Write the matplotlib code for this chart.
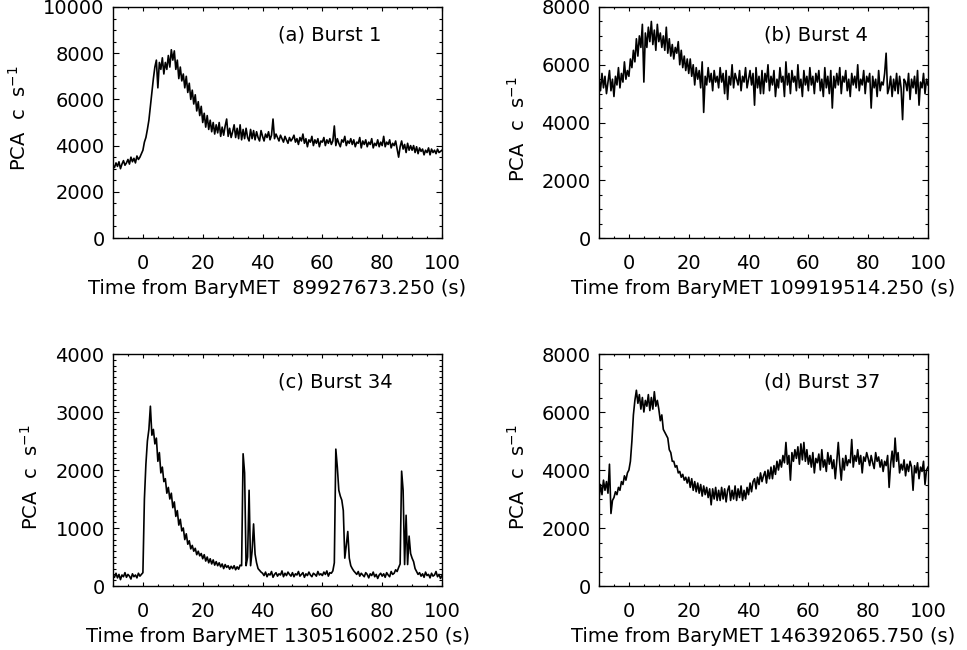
import numpy as np
import matplotlib
matplotlib.use("Agg")
import matplotlib.pyplot as plt
from matplotlib.ticker import MultipleLocator

# ---------------- data (0.5 s bins from -10 s to 100 s) ----------------
t_start, t_stop, bin_s = -10.0, 100.0, 0.5

burst_a = [
    3150, 3050, 3250, 3100, 3300, 3000, 3200, 3350, 3150, 3250, 3400, 3200, 3500, 3300, 3450, 3250, 3550, 3400, 3500, 3650,
    3800, 4150, 4350, 4700, 5100, 5700, 6300, 6900, 7400, 7700, 6500, 7600, 7300, 7800, 7100, 7600, 7300, 7900, 7400, 8150,
    7700, 8100, 7300, 7700, 6900, 7400, 6800, 7100, 6500, 7000, 6300, 6700, 6000, 6400, 5800, 6200, 5500, 5900, 5300, 5700,
    5000, 5400, 4800, 5300, 4700, 5100, 4600, 5000, 4500, 4900, 4550, 5000, 4400, 4800, 4450, 4850, 5150, 4400, 4750, 4350,
    4600, 4900, 4350, 4750, 4300, 4900, 4250, 4700, 4300, 4750, 4350, 4200, 4700, 4300, 4650, 4250, 4600, 4350, 4200, 4650,
    4400, 4200, 4500, 4350, 4600, 4250, 4450, 5150, 4300, 4500, 4350, 4200, 4450, 4300, 4150, 4400, 4250, 4100, 4350, 4200,
    4300, 4450, 4150, 4300, 4050, 4350, 4200, 4500, 4100, 4300, 3950, 4250, 4150, 4400, 4000, 4250, 4100, 4300, 3950, 4200,
    4150, 4350, 4000, 4250, 4100, 4300, 4050, 4200, 4850, 4000, 4300, 4100, 3950, 4250, 4150, 4400, 4000, 4200, 4100, 4300,
    4050, 4250, 3950, 4150, 4100, 4350, 3900, 4200, 4050, 4250, 3950, 4150, 4050, 4300, 3900, 4100, 4000, 4250, 3950, 4150,
    4000, 4400, 3950, 4150, 4050, 4250, 3900, 4100, 4000, 4200, 3850, 3500, 3950, 4200, 3850, 4050, 3700, 4100, 3800, 4000,
    3800, 4000, 3700, 3950, 3650, 3900, 3750, 3850, 3600, 3800, 3700, 3900, 3600, 3850, 3700, 3800, 3650, 3850, 3700, 3750,
    3800,
]

burst_b = [
    5500, 5100, 5700, 5200, 5600, 5000, 5400, 5800, 5100, 5500, 4900, 5600, 5300, 5900, 5200, 5700, 5400, 6100, 5500, 5800,
    5600, 6200, 5900, 6500, 6100, 6900, 6300, 7000, 6600, 7400, 5400, 7100, 6600, 7300, 6800, 7500, 6700, 7200, 6500, 7400,
    6800, 7100, 6600, 7000, 6500, 7300, 6400, 6900, 6300, 6700, 6200, 6600, 6400, 6800, 6000, 6500, 5900, 6300, 5800, 6200,
    5700, 6200, 5600, 6000, 5300, 5900, 5500, 5800, 5200, 6100, 4350, 5600, 5300, 5900, 5400, 5700, 5100, 5800, 5400, 5600,
    5200, 5900, 5400, 5700, 5000, 5800, 4800, 5600, 5300, 6000, 5200, 5700, 5500, 5300, 5800, 5100, 5600, 5400, 5900, 5200,
    5500, 5800, 5300, 5700, 4600, 5900, 5200, 5600, 5000, 5800, 5000, 5700, 5400, 6000, 5100, 5600, 5300, 5800, 4900, 5500,
    5200, 5900, 5400, 5600, 4900, 6100, 5300, 5700, 5000, 5800, 5400, 5600, 5100, 6000, 5200, 5500, 4900, 5800, 5300, 5600,
    5100, 5900, 5300, 5600, 5000, 5700, 5400, 5800, 5100, 5500, 4900, 5900, 5200, 5600, 5000, 5800, 4500, 5600, 5200, 5700,
    5300, 5900, 5000, 5600, 5400, 5800, 5100, 5500, 4900, 5700, 5300, 5600, 5200, 6000, 5100, 5500, 5300, 5800, 5000, 5600,
    5400, 5700, 4500, 5600, 5200, 5500, 4900, 5800, 5100, 5400, 5300, 5700, 6400, 5000, 5200, 5600, 4900, 5500, 5100, 5700,
    5000, 5600, 5200, 4100, 5500, 5400, 5100, 5700, 4800, 5500, 5200, 5600, 5000, 5800, 4600, 5400, 5200, 5700, 5000, 5500,
    5300,
]

burst_c = [
    180, 150, 220, 140, 200, 110, 190, 160, 230, 150, 200, 170, 120, 210, 160, 190, 140, 220, 170, 200,
    230, 1500, 2100, 2500, 2700, 3100, 2600, 2700, 2450, 2550, 2150, 2300, 1950, 2050, 1800, 1850, 1600, 1700, 1500, 1600,
    1350, 1450, 1200, 1300, 1050, 1150, 950, 1000, 800, 900, 720, 780, 640, 700, 600, 650, 540, 600, 520, 560,
    470, 540, 430, 500, 400, 470, 380, 450, 360, 420, 350, 400, 330, 380, 300, 370, 320, 350, 290, 340,
    300, 350, 280, 330, 290, 360, 350, 2280, 1950, 350, 500, 1650, 350, 600, 1070, 550, 400, 300, 270, 240,
    220, 180, 240, 160, 210, 190, 250, 150, 200, 230, 170, 210, 190, 260, 160, 220, 180, 240, 200, 170,
    230, 160, 210, 190, 250, 170, 200, 230, 150, 210, 180, 240, 190, 160, 220, 200, 170, 250, 190, 210,
    180, 240, 200, 260, 170, 230, 220, 260, 400, 2360, 2050, 1650, 1550, 1480, 1300, 480, 700, 940, 480, 350,
    300, 260, 230, 200, 250, 170, 220, 190, 160, 230, 200, 140, 210, 180, 240, 160, 200, 130, 190, 220,
    170, 210, 150, 230, 190, 160, 250, 200, 220, 280, 250, 320, 380, 1980, 1650, 370, 1220, 370, 860, 560,
    480, 420, 300, 250, 200, 230, 170, 210, 150, 240, 180, 200, 140, 220, 170, 190, 250, 160, 200, 130,
    180,
]

burst_d = [
    3000, 3500, 3150, 3650, 3300, 3600, 3200, 4200, 2500, 2950, 3050, 3250, 3150, 3400, 3300, 3600, 3500, 3800, 3650, 3900,
    4000, 4300, 5000, 5900, 6400, 6750, 6300, 6600, 6100, 6500, 6000, 6400, 6200, 6600, 6050, 6500, 6100, 6700, 6200, 6400,
    6100, 5700, 5900, 5400, 5300, 5200, 5100, 4700, 4600, 4300, 4300, 4100, 4150, 3900, 3950, 3750, 3850, 3650, 3750, 3550,
    3750, 3400, 3700, 3300, 3600, 3250, 3550, 3200, 3500, 3100, 3450, 3150, 3400, 3050, 3350, 2800, 3350, 3000, 3400, 2950,
    3300, 2950, 3400, 3000, 3350, 2900, 3300, 3450, 2950, 3300, 3000, 3450, 2950, 3350, 3050, 3450, 2950, 3300, 3000, 3400,
    3150, 3550, 3250, 3600, 3700, 3350, 3750, 3500, 3900, 3600, 3800, 3950, 3550, 4000, 3700, 4100, 3700, 4150, 3850, 4300,
    4000, 4350, 4100, 4500, 4250, 4950, 4200, 4500, 3650, 4600, 4300, 4700, 4400, 4800, 4200, 4900, 4350, 4950, 4300, 4700,
    4200, 4500, 4100, 4600, 3900, 4400, 4250, 4550, 4000, 4700, 4100, 4350, 3950, 4600, 4200, 4500, 4050, 4350, 3700, 4300,
    4950, 4200, 3650, 4400, 4000, 4500, 4150, 4350, 4250, 5050, 4100, 4500, 4300, 4700, 4200, 4500, 3900, 4450, 4300, 4600,
    4400, 4150, 4500, 4250, 4050, 4600, 4300, 4450, 4100, 4350, 3950, 4300, 4150, 4500, 3400, 4200, 4650, 4100, 5100, 4300,
    4600, 3900, 4200, 4000, 4350, 3800, 4200, 3950, 4300, 4100, 3300, 4150, 3900, 4250, 3700, 4100, 3950, 4300, 3500, 4000,
    4100,
]

panel_labels = ["(a) Burst 1", "(b) Burst 4", "(c) Burst 34", "(d) Burst 37"]
xlabels = [
    "Time from BaryMET  89927673.250 (s)",
    "Time from BaryMET 109919514.250 (s)",
    "Time from BaryMET 130516002.250 (s)",
    "Time from BaryMET 146392065.750 (s)",
]
ylims = [10000, 8000, 4000, 8000]
ymajor = [2000, 2000, 1000, 2000]
yminor = [500, 500, 100, 500]
ylabel_x = [-0.253, -0.213, -0.217, -0.213]
ylabel_y = [0.52, 0.47, 0.47, 0.47]

# ---------------- figure ----------------
plt.rcParams["font.family"] = ["DejaVu Sans"]
FS = 14
fig = plt.figure(figsize=(9.67, 6.50), dpi=100)

W, H = 967.0, 650.0
boxes = [  # left, top, right, bottom in pixels
    (113, 7, 442, 238),
    (599, 7, 928, 238),
    (113, 354, 442, 586),
    (599, 354, 928, 586),
]

series = [burst_a, burst_b, burst_c, burst_d]
n = len(burst_a)
time_s = t_start + bin_s * np.arange(n)

for i, (l, t, r, b) in enumerate(boxes):
    ax = fig.add_axes([l / W, 1 - b / H, (r - l) / W, (b - t) / H])
    y = np.array(series[i], dtype=float)
    ax.plot(time_s, y, color="black", lw=1.2)
    ax.set_xlim(t_start, t_stop)
    ax.set_ylim(0, ylims[i])
    ax.xaxis.set_major_locator(MultipleLocator(20))
    ax.xaxis.set_minor_locator(MultipleLocator(5))
    ax.yaxis.set_major_locator(MultipleLocator(ymajor[i]))
    ax.yaxis.set_minor_locator(MultipleLocator(yminor[i]))
    ax.tick_params(axis="both", which="both", direction="in", top=True, right=True,
                   labelsize=FS, colors="black", width=0.8)
    ax.tick_params(axis="x", which="major", length=3.2, pad=11.5)
    ax.tick_params(axis="x", which="minor", length=1.6)
    ax.tick_params(axis="y", which="major", length=4.4, pad=6)
    ax.tick_params(axis="y", which="minor", length=2.2)
    for sp in ax.spines.values():
        sp.set_linewidth(1.0)
    ax.set_xlabel(xlabels[i], fontsize=FS, labelpad=4.5)
    ax.set_ylabel(r"PCA  c  s$^{\mathregular{-1}}$", fontsize=FS)
    ax.yaxis.set_label_coords(ylabel_x[i], ylabel_y[i])
    ax.text(0.50, 0.879, panel_labels[i], transform=ax.transAxes, fontsize=FS,
            ha="left", va="center")

fig.savefig("out.png", dpi=100)
